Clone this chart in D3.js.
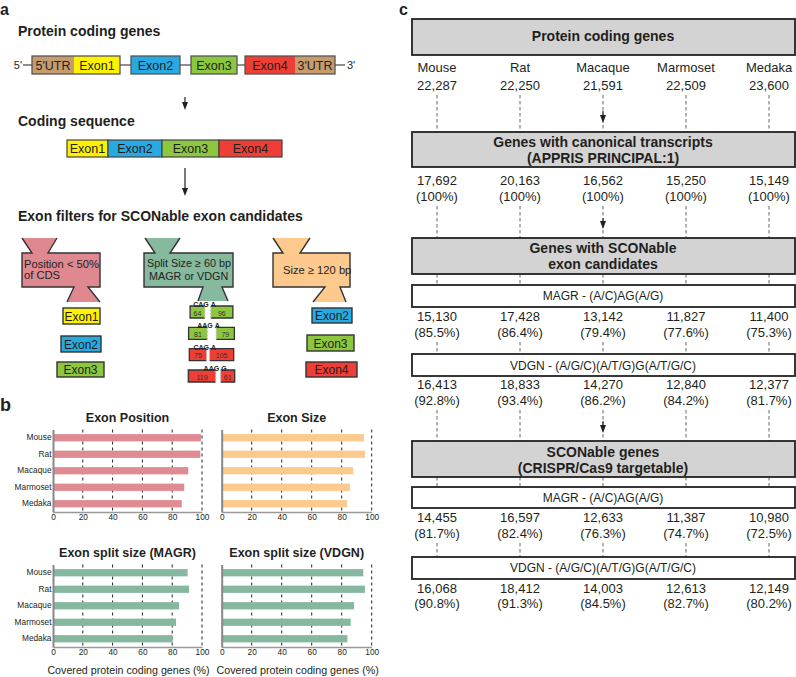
<!DOCTYPE html>
<html><head><meta charset="utf-8">
<script src="https://cdn.jsdelivr.net/npm/d3@7"></script>
<style>
html,body{margin:0;padding:0;background:#fff;}
svg{display:block;font-family:"Liberation Sans",Arial,Helvetica,sans-serif;}
</style></head>
<body><svg id="c" width="796" height="677"></svg>
<script>
// ---------- DATA ----------
const species = ["Mouse","Rat","Macaque","Marmoset","Medaka"];
// panel b (covered protein coding genes, %)
const exonPosition = [99.3, 98.9, 90.8, 88.1, 86.4];
const exonSize     = [94.9, 95.5, 87.7, 85.5, 83.5];
const splitMAGR    = [90.4, 91.3, 84.6, 82.6, 80.3];
const splitVDGN    = [94.4, 95.5, 88.2, 86.0, 83.8];
const xTicks = [0, 20, 40, 60, 80, 100];
// panel c
const proteinCoding = [22287, 22250, 21591, 22509, 23600];
const canonical     = [17692, 20163, 16562, 15250, 15149];
const canonicalPct  = [100, 100, 100, 100, 100];
const candMAGR      = [15130, 17428, 13142, 11827, 11400];
const candMAGRPct   = [85.5, 86.4, 79.4, 77.6, 75.3];
const candVDGN      = [16413, 18833, 14270, 12840, 12377];
const candVDGNPct   = [92.8, 93.4, 86.2, 84.2, 81.7];
const sconMAGR      = [14455, 16597, 12633, 11387, 10980];
const sconMAGRPct   = [81.7, 82.4, 76.3, 74.7, 72.5];
const sconVDGN      = [16068, 18412, 14003, 12613, 12149];
const sconVDGNPct   = [90.8, 91.3, 84.5, 82.7, 80.2];
// panel a split exon examples
const splitLeft   = [64, 81, 75, 119];
const splitRight  = [96, 79, 105, 61];
const splitCodon  = ["CAG", "AAG", "CAG", "AAG"];
const splitTrail  = ["A", "A", "A", "G"];
const splitExon   = ["Exon3", "Exon3", "Exon4", "Exon4"];

// ---------- STYLE ----------
const C = {UTR:"#c69c6d", Exon1:"#fff200", Exon2:"#27aae1", Exon3:"#8dc63f", Exon4:"#ef3e36"};
const ink = "#231f20";
const svg = d3.select("#c");
const F = '"Liberation Sans",Arial,Helvetica,sans-serif';

function txt(g, x, y, s, o = {}) {
  return g.append("text").attr("x", x).attr("y", y).text(s)
    .attr("font-size", o.size || 13).attr("font-weight", o.bold ? "bold" : null)
    .attr("text-anchor", o.anchor || "start").attr("fill", o.fill || ink);
}

// panel letters
txt(svg, 0, 15, "a", {size:16, bold:true});
txt(svg, 0, 411, "b", {size:18, bold:true});
txt(svg, 399, 15, "c", {size:16, bold:true});

// ---------- PANEL A ----------
const A = svg.append("g");
txt(A, 18, 36, "Protein coding genes", {size:14, bold:true});
const gy0 = 56, gy1 = 74, gmid = 65;
A.append("line").attr("x1", 23).attr("x2", 345).attr("y1", gmid).attr("y2", gmid).attr("stroke", ink).attr("stroke-width", 1.2);
txt(A, 22, 69, "5'", {size:11, anchor:"end"});
txt(A, 347, 69, "3'", {size:11});
const geneParts = [
  {k:"UTR", l:"5'UTR", x0:32, x1:74, g:0},
  {k:"Exon1", l:"Exon1", x0:74, x1:120, g:0},
  {k:"Exon2", l:"Exon2", x0:131, x1:180, g:1},
  {k:"Exon3", l:"Exon3", x0:191, x1:237, g:2},
  {k:"Exon4", l:"Exon4", x0:245, x1:295, g:3},
  {k:"UTR", l:"3'UTR", x0:295, x1:335, g:3}
];
geneParts.forEach(p => {
  A.append("rect").attr("x", p.x0).attr("y", gy0).attr("width", p.x1 - p.x0).attr("height", gy1 - gy0).attr("fill", C[p.k]);
  txt(A, (p.x0 + p.x1) / 2, 69.5, p.l, {size:12.5, anchor:"middle"});
});
d3.groups(geneParts, d => d.g).forEach(([g, ps]) => {
  const x0 = d3.min(ps, d => d.x0), x1 = d3.max(ps, d => d.x1);
  A.append("rect").attr("x", x0).attr("y", gy0).attr("width", x1 - x0).attr("height", gy1 - gy0)
    .attr("fill", "none").attr("stroke", "#555").attr("stroke-width", 1.3);
});
function arrow(g, x, y0, y1, w = 1.2, hw = 3, hl = 8) {
  g.append("line").attr("x1", x).attr("x2", x).attr("y1", y0).attr("y2", y1 - hl + 1).attr("stroke", ink).attr("stroke-width", w);
  g.append("path").attr("d", `M${x - hw},${y1 - hl}L${x + hw},${y1 - hl}L${x},${y1}Z`).attr("fill", ink);
}
arrow(A, 185, 97, 110);
txt(A, 18, 126, "Coding sequence", {size:14, bold:true});
const cdsParts = [["Exon1", 67, 108], ["Exon2", 108, 162], ["Exon3", 162, 219], ["Exon4", 219, 282]];
cdsParts.forEach(([k, x0, x1]) => {
  A.append("rect").attr("x", x0).attr("y", 140).attr("width", x1 - x0).attr("height", 17).attr("fill", C[k]).attr("stroke", "#444").attr("stroke-width", 1.2);
  txt(A, (x0 + x1) / 2, 153, k, {size:12.5, anchor:"middle"});
});
arrow(A, 185, 168, 196);
txt(A, 18, 221, "Exon filters for SCONable exon candidates", {size:14, bold:true});

function funnel(g, s, fill) {
  const pts = [[s.tt[0], s.ty], [s.tb[0], s.b0], [s.bx[0], s.b0], [s.bx[0], s.b1], [s.bt[0], s.b1], [s.bb[0], s.by],
               [s.bb[1], s.by], [s.bt[1], s.b1], [s.bx[1], s.b1], [s.bx[1], s.b0], [s.tb[1], s.b0], [s.tt[1], s.ty]];
  g.append("path").attr("d", d3.line()(pts) + "Z").attr("fill", fill);
  const l1 = pts.slice(0, 6), l2 = pts.slice(6, 12);
  [l1, l2].forEach(l => g.append("path").attr("d", d3.line()(l)).attr("fill", "none").attr("stroke", "#333").attr("stroke-width", 1.4).attr("stroke-linejoin", "miter"));
}
funnel(A, {ty:238, tt:[22,57], tb:[32,48], b0:253, b1:287, bx:[22,100], bt:[74,88], bb:[67,100], by:302}, "#e0888f");
funnel(A, {ty:238, tt:[145,180], tb:[155,170], b0:253, b1:287, bx:[144,233], bt:[203,222], bb:[198,228], by:301}, "#86b99d");
funnel(A, {ty:238, tt:[273,310], tb:[283,300], b0:253, b1:287, bx:[273,350], bt:[325,340], bb:[313,346], by:302}, "#fdc98c");
txt(A, 24, 268, "Position < 50%", {size:11.2});
txt(A, 24, 279, "of CDS", {size:11.2});
txt(A, 147, 267, "Split Size \u2265 60 bp", {size:10.8});
txt(A, 149, 280, "MAGR or VDGN", {size:10.8});
txt(A, 283, 274, "Size \u2265 120 bp", {size:11.2});

function exonBox(g, k, x0, x1, y0, y1) {
  g.append("rect").attr("x", x0).attr("y", y0).attr("width", x1 - x0).attr("height", y1 - y0).attr("fill", C[k]).attr("stroke", "#333").attr("stroke-width", 1.4);
  txt(g, (x0 + x1) / 2, y1 - 3.5, k, {size:12, anchor:"middle"});
}
exonBox(A, "Exon1", 63, 100, 308, 324);
exonBox(A, "Exon2", 61, 101, 336, 352);
exonBox(A, "Exon3", 57, 104, 362, 377);
exonBox(A, "Exon2", 312, 352, 308, 323);
exonBox(A, "Exon3", 307, 354, 335, 351);
exonBox(A, "Exon4", 306, 357, 362, 377);

const bpW = d3.scaleLinear().domain([0, 160]).range([0, 36.8]);
const splitY = d3.scalePoint().domain(d3.range(4)).range([306, 370]);
const gap = [6, 9, 3, 5];
d3.range(4).forEach(i => {
  const wl = bpW(splitLeft[i]), wr = bpW(splitRight[i]);
  const total = wl + wr + gap[i];
  const x0 = 211.5 - total / 2, y = splitY(i), h = 12;
  const xl1 = x0 + wl, xr0 = xl1 + gap[i], xr1 = xr0 + wr;
  const col = C[splitExon[i]];
  A.append("rect").attr("x", x0).attr("y", y).attr("width", wl).attr("height", h).attr("fill", col);
  A.append("rect").attr("x", xr0).attr("y", y).attr("width", wr).attr("height", h).attr("fill", col);
  A.append("path").attr("d", `M${xl1},${y}H${x0}V${y + h}H${xl1}`).attr("fill", "none").attr("stroke", "#333").attr("stroke-width", 1.3);
  A.append("path").attr("d", `M${xr0},${y}H${xr1}V${y + h}H${xr0}`).attr("fill", "none").attr("stroke", "#333").attr("stroke-width", 1.3);
  [xl1, xr0].forEach(x => A.append("line").attr("x1", x).attr("x2", x).attr("y1", y).attr("y2", y + h).attr("stroke", "#bbb").attr("stroke-width", 1.2).attr("stroke-dasharray", "2,1.5"));
  txt(A, x0 + wl / 2, y + h - 2.5, splitLeft[i], {size:7, anchor:"middle", fill:"#333"});
  txt(A, xr0 + wr / 2, y + h - 2.5, splitRight[i], {size:7, anchor:"middle", fill:"#333"});
  const gc = (xl1 + xr0) / 2;
  txt(A, gc + 1, y + 1, splitCodon[i], {size:7, bold:true, anchor:"end"});
  txt(A, gc + 3, y + 1, splitTrail[i], {size:7, bold:true});
});

// ---------- PANEL B ----------
const B = svg.append("g");
function barChart(vals, x0, x1, y0, y1, fill, title, titleY, showCats, xlabel) {
  const x = d3.scaleLinear().domain([0, 100]).range([x0, x1]);
  const y = d3.scaleBand().domain(species).range([y0, y1]).paddingInner(0.56).paddingOuter(0.28);
  const g = B.append("g");
  g.selectAll("line.grid").data(xTicks.slice(1)).join("line").attr("class", "grid")
    .attr("x1", d => x(d)).attr("x2", d => x(d)).attr("y1", y0).attr("y2", y1)
    .attr("stroke", "#222").attr("stroke-width", 1).attr("stroke-dasharray", "3,3");
  g.selectAll("rect.bar").data(vals).join("rect").attr("class", "bar")
    .attr("x", x(0)).attr("y", (d, i) => y(species[i])).attr("width", d => x(d) - x(0)).attr("height", y.bandwidth())
    .attr("fill", fill);
  const ax = g.append("g").attr("transform", `translate(0,${y1})`)
    .call(d3.axisBottom(x).tickValues(xTicks).tickSize(0).tickPadding(2.5));
  ax.select(".domain").attr("stroke", "#999").attr("stroke-width", 1.5);
  ax.selectAll("text").attr("font-family", F).attr("font-size", 8.3).attr("fill", ink);
  const ay = g.append("g").attr("transform", `translate(${x0},0)`)
    .call(d3.axisLeft(y).tickSize(0).tickPadding(1.5));
  ay.select(".domain").attr("stroke", "#888").attr("stroke-width", 2);
  ay.selectAll("text").attr("font-family", F).attr("font-size", 8.3).attr("fill", ink);
  if (!showCats) ay.selectAll("text").remove();
  txt(g, (x0 + x1) / 2, titleY, title, {size:12.5, bold:true, anchor:"middle"});
  if (xlabel) txt(g, (x0 + x1) / 2 + 1, y1 + 26.5, xlabel, {size:10.7, anchor:"middle"});
}
barChart(exonPosition, 53, 202, 429.5, 512, "#e08b94", "Exon Position", 422, true);
barChart(exonSize, 221.7, 371.7, 429.5, 512, "#fdca8d", "Exon Size", 422, false);
barChart(splitMAGR, 53, 202, 564.5, 647, "#86b89f", "Exon split size (MAGR)", 557, true, "Covered protein coding genes (%)");
barChart(splitVDGN, 221.7, 371.7, 564.5, 647, "#86b89f", "Exon split size (VDGN)", 557, false, "Covered protein coding genes (%)");

// ---------- PANEL C ----------
const P = svg.append("g");
const cx = d3.scalePoint().domain(species).range([437, 769]);
const fmt = d3.format(",");
const pct = v => "(" + (v === 100 ? "100" : d3.format(".1f")(v)) + "%)";
const bx0 = 412, bx1 = 795;
function dashes(y0, y1) {
  P.selectAll(null).data(species).join("line")
    .attr("x1", d => cx(d)).attr("x2", d => cx(d)).attr("y1", y0).attr("y2", y1)
    .attr("stroke", "#555").attr("stroke-width", 0.9).attr("stroke-dasharray", "3.5,2.5");
}
function greyBox(y0, y1, lines) {
  P.append("rect").attr("x", bx0).attr("y", y0).attr("width", bx1 - bx0).attr("height", y1 - y0)
    .attr("fill", "#d3d3d3").attr("stroke", "#222").attr("stroke-width", 1.8);
  lines.forEach(([s, by]) => txt(P, 603, by, s, {size:14, bold:true, anchor:"middle"}));
}
function whiteBox(y0, y1, s, by) {
  P.append("rect").attr("x", bx0).attr("y", y0).attr("width", bx1 - bx0).attr("height", y1 - y0)
    .attr("fill", "#fff").attr("stroke", "#222").attr("stroke-width", 1.8);
  txt(P, 603, by, s, {size:12, anchor:"middle"});
}
function row(vals, y, f) {
  P.selectAll(null).data(vals).join("text")
    .attr("x", (d, i) => cx(species[i])).attr("y", y).attr("text-anchor", "middle")
    .attr("font-size", 13).attr("fill", ink).text(f);
}
dashes(95, 132); dashes(206, 238); dashes(274, 285); dashes(342, 354); dashes(410, 441); dashes(477, 487); dashes(543, 557);
arrow(P, cx("Macaque"), 111, 123, 1.1, 3, 8);
arrow(P, cx("Macaque"), 218, 229, 1.1, 3, 8);
arrow(P, cx("Macaque"), 421, 433, 1.1, 3, 8);

greyBox(19, 55, [["Protein coding genes", 41]]);
row(species, 72, d => d);
row(proteinCoding, 90, fmt);
greyBox(132, 167, [["Genes with canonical transcripts", 146.5], ["(APPRIS PRINCIPAL:1)", 162.5]]);
row(canonical, 185, fmt);
row(canonicalPct, 201, pct);
greyBox(238, 274, [["Genes with SCONable", 253], ["exon candidates", 269]]);
whiteBox(285, 307, "MAGR - (A/C)AG(A/G)", 300);
row(candMAGR, 321, fmt);
row(candMAGRPct, 337, pct);
whiteBox(354, 376, "VDGN - (A/G/C)(A/T/G)G(A/T/G/C)", 370);
row(candVDGN, 389, fmt);
row(candVDGNPct, 405, pct);
greyBox(441, 477, [["SCONable genes", 457], ["(CRISPR/Cas9 targetable)", 473]]);
whiteBox(487, 508, "MAGR - (A/C)AG(A/G)", 502);
row(sconMAGR, 522, fmt);
row(sconMAGRPct, 538, pct);
whiteBox(557, 579, "VDGN - (A/G/C)(A/T/G)G(A/T/G/C)", 572);
row(sconVDGN, 593, fmt);
row(sconVDGNPct, 608, pct);
</script></body></html>
